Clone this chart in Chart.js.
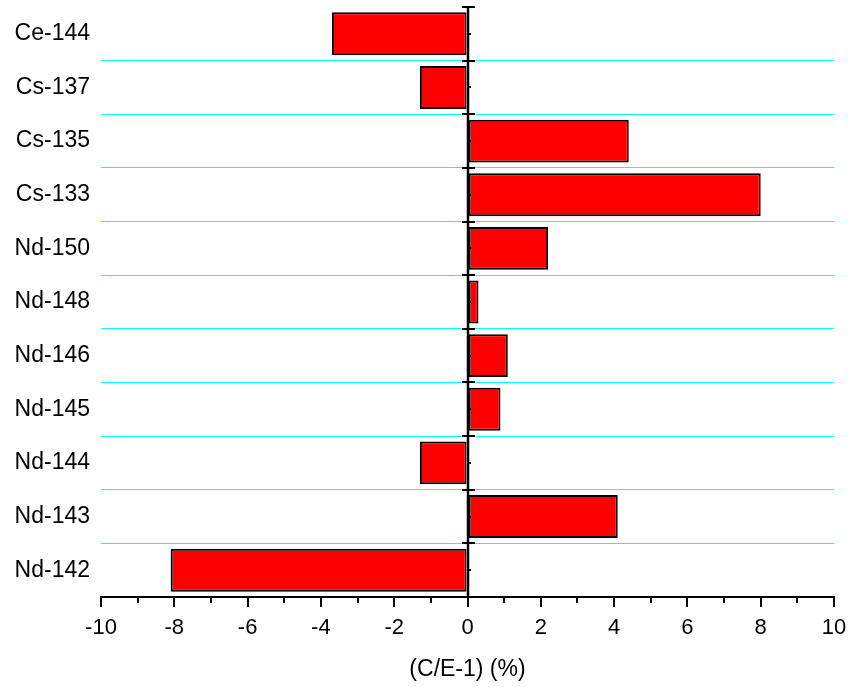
<!DOCTYPE html>
<html>
<head>
<meta charset="utf-8">
<script src="https://cdn.jsdelivr.net/npm/chart.js@4/dist/chart.umd.min.js"></script>
<style>
  html, body { margin: 0; padding: 0; background: #fff; }
  #wrap { width: 852px; height: 687px; }
</style>
</head>
<body>
<div id="wrap"><canvas id="chart" width="852" height="687"></canvas></div>
<script>
// nuclides, top to bottom
const nuclides = ["Ce-144", "Cs-137", "Cs-135", "Cs-133", "Nd-150", "Nd-148",
                  "Nd-146", "Nd-145", "Nd-144", "Nd-143", "Nd-142"];
// C/E-1 in percent
const deviation = [-3.7, -1.3, 4.4, 8.0, 2.2, 0.3, 1.1, 0.9, -1.3, 4.1, -8.1];
const xTicks = [-10, -8, -6, -4, -2, 0, 2, 4, 6, 8, 10];
const xMinorTicks = [-9, -7, -5, -3, -1, 1, 3, 5, 7, 9];

const FONT = "'Liberation Sans', Arial, sans-serif";

// minor ticks on the bottom axis + the zero line with its category ticks
const axisExtras = {
    id: 'axisExtras',
    afterDatasetsDraw(chart) {
        const { ctx, chartArea, scales } = chart;
        const x = scales.x, y = scales.y;
        ctx.save();
        ctx.strokeStyle = '#000';
        ctx.lineWidth = 2;
        ctx.beginPath();
        xMinorTicks.forEach(v => {
            const px = Math.round(x.getPixelForValue(v));
            ctx.moveTo(px, chartArea.bottom);
            ctx.lineTo(px, chartArea.bottom + 6);
        });
        ctx.stroke();

        const x0 = Math.round(x.getPixelForValue(0));
        ctx.lineWidth = 2.5;
        ctx.beginPath();
        ctx.moveTo(x0, chartArea.top);
        ctx.lineTo(x0, chartArea.bottom);
        ctx.stroke();
        ctx.lineWidth = 2;
        ctx.beginPath();
        const half = (y.getPixelForValue(1) - y.getPixelForValue(0)) / 2;
        for (let i = 0; i < nuclides.length; i++) {
            const c = y.getPixelForValue(i);
            const b = Math.round(c - half);
            ctx.moveTo(x0 - 6, b);
            ctx.lineTo(x0 + 7, b);
            ctx.moveTo(x0, Math.round(c));
            ctx.lineTo(x0 + 3, Math.round(c));
        }
        ctx.stroke();
        ctx.restore();
    }
};

new Chart(document.getElementById('chart').getContext('2d'), {
    type: 'bar',
    data: {
        labels: nuclides,
        datasets: [{
            data: deviation,
            backgroundColor: '#ff0000',
            borderColor: '#000',
            borderWidth: 2,
            borderSkipped: false,
            barPercentage: 0.8,
            categoryPercentage: 1
        }]
    },
    options: {
        indexAxis: 'y',
        responsive: false,
        animation: false,
        layout: { padding: { top: 7, right: 18, left: 0, bottom: 0 } },
        plugins: { legend: { display: false }, tooltip: { enabled: false } },
        scales: {
            x: {
                min: -10, max: 10,
                afterBuildTicks: s => { s.ticks = xTicks.map(v => ({ value: v })); },
                afterFit: s => { s.height = 90; s.paddingLeft = 0; s.paddingRight = 0; },
                border: { display: true, color: '#000', width: 2 },
                grid: { drawOnChartArea: false, drawTicks: true, tickLength: 10, color: '#000', lineWidth: 2 },
                ticks: { color: '#000', font: { family: FONT, size: 22 }, padding: 8, maxRotation: 0 },
                title: { display: true, text: '(C/E-1) (%)', color: '#000', font: { family: FONT, size: 23 }, padding: { top: 7 } }
            },
            y: {
                afterFit: s => { s.width = 101; s.paddingTop = 0; s.paddingBottom = 0; },
                border: { display: false },
                grid: {
                    drawTicks: false,
                    lineWidth: 1,
                    color: c => (c.index === 0 || c.index === nuclides.length) ? 'rgba(0,0,0,0)' : '#00ffff'
                },
                ticks: { color: '#000', font: { family: FONT, size: 23 }, padding: 11 }
            }
        }
    },
    plugins: [axisExtras]
});
</script>
</body>
</html>
